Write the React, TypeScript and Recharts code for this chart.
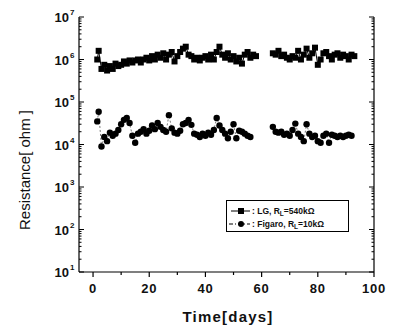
import React from 'react'
import { ComposedChart, Line, XAxis, YAxis } from 'recharts'

// days and resistances (ohm)
const lgDays = [1.5, 2, 3, 4, 5, 6, 7, 8, 9, 10, 11, 12, 13, 14, 15, 16, 17, 18, 19, 20, 21, 22, 23, 24, 25, 26, 27, 28, 29, 30, 31, 32, 33, 34, 35, 36, 37, 38, 39, 40, 41, 42, 43, 44, 45, 46, 47, 48, 49, 50, 51, 52, 53, 54, 55, 56, 57, 58, 64, 65, 66, 67, 68, 69, 70, 71, 72, 73, 74, 75, 76, 77, 78, 79, 80, 81, 82, 83, 84, 85, 86, 87, 88, 89, 90, 91, 92, 93]
const lgValues = [1.0e6, 1.6e6, 0.6e6, 0.75e6, 0.55e6, 0.7e6, 0.6e6, 0.8e6, 0.7e6, 0.75e6, 0.9e6, 0.8e6, 0.95e6, 0.85e6, 0.95e6, 1.0e6, 0.85e6, 1.0e6, 1.1e6, 0.95e6, 1.2e6, 1.0e6, 1.3e6, 1.1e6, 1.4e6, 1.0e6, 1.3e6, 1.5e6, 0.9e6, 1.2e6, 1.5e6, 1.8e6, 2.0e6, 1.3e6, 1.2e6, 1.0e6, 1.1e6, 0.95e6, 1.1e6, 1.2e6, 1.0e6, 1.3e6, 1.0e6, 1.5e6, 2.0e6, 1.3e6, 1.1e6, 1.4e6, 1.0e6, 1.2e6, 0.9e6, 1.1e6, 0.8e6, 1.3e6, 1.5e6, 1.1e6, 1.3e6, 1.2e6, 1.4e6, 1.3e6, 1.6e6, 1.2e6, 1.3e6, 1.1e6, 1.0e6, 1.2e6, 1.1e6, 1.6e6, 1.0e6, 1.3e6, 1.8e6, 1.1e6, 1.4e6, 1.9e6, 0.75e6, 1.0e6, 1.4e6, 1.5e6, 1.2e6, 1.0e6, 1.3e6, 1.4e6, 1.1e6, 1.3e6, 1.2e6, 1.0e6, 1.3e6, 1.2e6]

const figaroDays = [1.5, 2, 3, 4, 5, 6, 7, 8, 9, 10, 11, 12, 13, 14, 15, 16, 17, 18, 19, 20, 21, 22, 23, 24, 25, 26, 27, 28, 29, 30, 31, 32, 33, 34, 35, 36, 37, 38, 39, 40, 41, 42, 43, 44, 45, 46, 47, 48, 49, 50, 51, 52, 53, 54, 55, 56, 64, 65, 66, 67, 68, 69, 70, 71, 72, 73, 74, 75, 76, 77, 78, 79, 80, 81, 82, 83, 84, 85, 86, 87, 88, 89, 90, 91, 92]
const figaroValues = [3.5e4, 5.9e4, 0.9e4, 1.5e4, 1.2e4, 1.9e4, 1.6e4, 1.8e4, 2.2e4, 3.0e4, 3.8e4, 4.2e4, 3.2e4, 1.6e4, 1.1e4, 1.8e4, 2.0e4, 2.3e4, 1.8e4, 2.1e4, 2.8e4, 2.3e4, 3.2e4, 2.6e4, 2.2e4, 2.0e4, 4.9e4, 2.4e4, 1.9e4, 1.8e4, 2.1e4, 3.0e4, 3.2e4, 3.8e4, 2.9e4, 1.8e4, 1.7e4, 1.5e4, 1.8e4, 1.6e4, 1.9e4, 1.7e4, 2.2e4, 4.2e4, 2.8e4, 2.2e4, 1.8e4, 1.4e4, 2.0e4, 3.0e4, 1.4e4, 2.1e4, 2.0e4, 1.8e4, 1.6e4, 1.5e4, 2.6e4, 2.0e4, 1.9e4, 2.0e4, 1.7e4, 1.8e4, 1.6e4, 2.2e4, 3.1e4, 1.8e4, 1.5e4, 1.2e4, 3.0e4, 1.8e4, 1.5e4, 1.6e4, 1.2e4, 1.1e4, 1.6e4, 1.8e4, 1.1e4, 1.7e4, 1.6e4, 1.5e4, 1.6e4, 1.5e4, 1.6e4, 1.7e4, 1.6e4]

const gapDay = 61 // measurements pause between the two runs

const xMajorTicks = [0, 20, 40, 60, 80, 100]
const xMinorTicks = [10, 30, 50, 70, 90]
const yMajorTicks = [1e1, 1e2, 1e3, 1e4, 1e5, 1e6, 1e7]

const yMinorTicks: number[] = []
yMajorTicks.slice(0, -1).forEach((d) => {
  for (let m = 2; m <= 9; m++) yMinorTicks.push(d * m)
})

function withGap(days: number[], values: number[]) {
  const rows: { day: number; v: number | null }[] = []
  days.forEach((d, i) => {
    if (i > 0 && days[i - 1] < gapDay && d > gapDay) rows.push({ day: gapDay, v: null })
    rows.push({ day: d, v: values[i] })
  })
  return rows
}

const lgData = withGap(lgDays, lgValues)
const figaroData = withGap(figaroDays, figaroValues)

const FONT = '"Liberation Sans", Arial, sans-serif'

const isMajorX = (v: number) => xMajorTicks.includes(v)
const isMajorY = (v: number) => yMajorTicks.includes(v)

const BottomTick = (props: any) => {
  const { x, y, payload } = props
  const major = isMajorX(payload.value)
  return (
    <g>
      <line x1={x} x2={x} y1={y} y2={y + (major ? 5 : 3)} stroke="#000" strokeWidth={1.2} />
      {major && (
        <text x={x} y={y + 21} textAnchor="middle" fontSize={13} fontWeight="bold" fontFamily={FONT} fill="#111" letterSpacing={0.8}>
          {payload.value}
        </text>
      )}
    </g>
  )
}

const TopTick = (props: any) => {
  const { x, y, payload } = props
  const major = isMajorX(payload.value)
  return <line x1={x} x2={x} y1={y} y2={y + (major ? 5 : 3)} stroke="#000" strokeWidth={1.2} />
}

const LeftTick = (props: any) => {
  const { x, y, payload } = props
  const major = isMajorY(payload.value)
  const exp = Math.round(Math.log10(payload.value))
  return (
    <g>
      <line x1={x} x2={x + (major ? 5 : 2.5)} y1={y} y2={y} stroke="#000" strokeWidth={1} />
      {major && (
        <text x={x - 10} y={y + 5} textAnchor="end" fontSize={13} fontWeight="bold" fontFamily={FONT} fill="#111">
          10
        </text>
      )}
      {major && (
        <text x={x - 9} y={y - 2} textAnchor="start" fontSize={8} fontWeight="bold" fontFamily={FONT} fill="#111">
          {exp}
        </text>
      )}
    </g>
  )
}

const RightTick = (props: any) => {
  const { x, y, payload } = props
  const major = isMajorY(payload.value)
  return <line x1={x} x2={x - (major ? 5 : 2.5)} y1={y} y2={y} stroke="#000" strokeWidth={1} />
}

const squareDot = (props: any) => {
  const { cx, cy, index } = props
  if (cx == null || cy == null) return <g key={`lg-${index}`} />
  return <rect key={`lg-${index}`} x={cx - 3} y={cy - 3} width={6} height={6} fill="#000" />
}

const circleDot = (props: any) => {
  const { cx, cy, index } = props
  if (cx == null || cy == null) return <g key={`fg-${index}`} />
  return <circle key={`fg-${index}`} cx={cx} cy={cy} r={3.2} fill="#000" />
}

export default function App() {
  return (
    <div style={{ position: 'absolute', left: 0, top: 0, width: 393, height: 329, background: '#fff' }}>
      <ComposedChart width={393} height={329} margin={{ top: 17, right: 0, bottom: 0, left: 0 }}>
        <XAxis
          xAxisId="b"
          type="number"
          dataKey="day"
          domain={[-5, 100]}
          ticks={[...xMajorTicks, ...xMinorTicks]}
          interval={0}
          allowDataOverflow
          height={57}
          stroke="#000"
          strokeWidth={1.2}
          tickLine={false}
          tickSize={0}
          tickMargin={0}
          tick={<BottomTick />}
        />
        <XAxis
          xAxisId="t"
          orientation="top"
          type="number"
          dataKey="day"
          domain={[-5, 100]}
          ticks={[...xMajorTicks, ...xMinorTicks]}
          interval={0}
          allowDataOverflow
          height={0}
          stroke="#000"
          strokeWidth={1.2}
          tickLine={false}
          tickSize={0}
          tickMargin={0}
          tick={<TopTick />}
        />
        <YAxis
          yAxisId="l"
          scale="log"
          type="number"
          domain={[10, 1e7]}
          ticks={[...yMajorTicks, ...yMinorTicks]}
          interval={0}
          allowDataOverflow
          width={79}
          stroke="#000"
          strokeWidth={1.2}
          tickLine={false}
          tickSize={0}
          tickMargin={0}
          tick={<LeftTick />}
        />
        <YAxis
          yAxisId="r"
          orientation="right"
          scale="log"
          type="number"
          domain={[10, 1e7]}
          ticks={[...yMajorTicks, ...yMinorTicks]}
          interval={0}
          allowDataOverflow
          width={19}
          stroke="#000"
          strokeWidth={1.2}
          tickLine={false}
          tickSize={0}
          tickMargin={0}
          tick={<RightTick />}
        />
        <Line
          data={lgData}
          dataKey="v"
          xAxisId="b"
          yAxisId="l"
          stroke="#000"
          strokeWidth={1}
          dot={squareDot}
          activeDot={false}
          connectNulls={false}
          isAnimationActive={false}
        />
        <Line
          data={figaroData}
          dataKey="v"
          xAxisId="b"
          yAxisId="l"
          stroke="#555"
          strokeWidth={0.8}
          strokeDasharray="2 2"
          dot={circleDot}
          activeDot={false}
          connectNulls={false}
          isAnimationActive={false}
        />
      </ComposedChart>
      <svg width={393} height={329} style={{ position: 'absolute', left: 0, top: 0, pointerEvents: 'none' }}>
        <text
          x={0}
          y={0}
          transform="translate(30,170) rotate(-90)"
          textAnchor="middle"
          fontSize={15}
          fontFamily={FONT}
          fill="#111"
        >
          Resistance[ ohm ]
        </text>
        <text x={228} y={322} textAnchor="middle" fontSize={15} fontWeight="bold" fontFamily={FONT} fill="#111" letterSpacing={1.2}>
          Time[days]
        </text>
        <rect x={226.5} y={200.5} width={122} height={31} fill="#fff" stroke="#000" strokeWidth={1} />
        <line x1={231} x2={250} y1={211} y2={211} stroke="#000" strokeWidth={1} />
        <rect x={238} y={208} width={6} height={6} fill="#000" />
        <text x={252} y={214} fontSize={8.5} fontWeight="bold" fontFamily={FONT} fill="#111">
          : LG, R<tspan fontSize={6.5} dy={1.5}>L</tspan>
          <tspan dy={-1.5}>=540kΩ</tspan>
        </text>
        <line x1={229} x2={250} y1={224} y2={224} stroke="#000" strokeWidth={1} strokeDasharray="4 2 1 2" />
        <circle cx={241} cy={224} r={3} fill="#000" />
        <text x={252} y={227} fontSize={8.5} fontWeight="bold" fontFamily={FONT} fill="#111">
          : Figaro, R<tspan fontSize={6.5} dy={1.5}>L</tspan>
          <tspan dy={-1.5}>=10kΩ</tspan>
        </text>
      </svg>
    </div>
  )
}
